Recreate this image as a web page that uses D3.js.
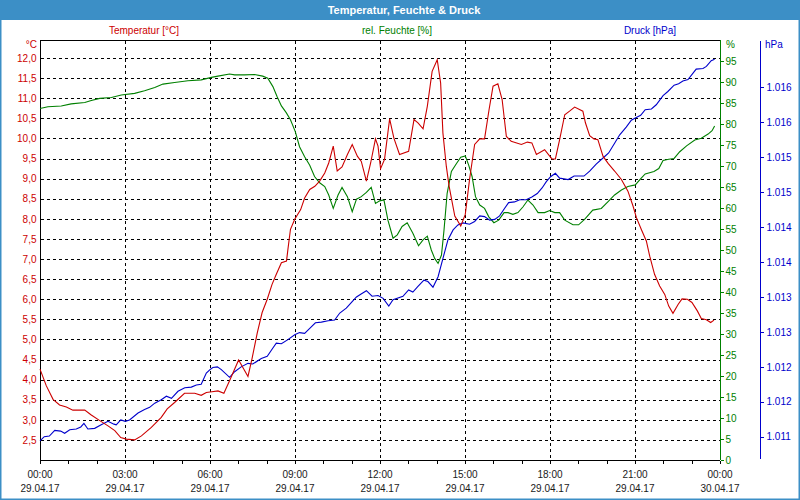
<!DOCTYPE html>
<html><head><meta charset="utf-8">
<script src="https://cdn.jsdelivr.net/npm/d3@7/dist/d3.min.js"></script>
<style>
html,body{margin:0;padding:0;background:#fff;}
text{font-family:"Liberation Sans",Arial,sans-serif;font-size:10px;}
</style></head>
<body><svg id="c" width="800" height="500"></svg>
<script>
// ---- data (time in hours since 29.04.17 00:00) ----
const titleText = "Temperatur, Feuchte & Druck";
const legendLabels = ["Temperatur [°C]", "rel. Feuchte [%]", "Druck [hPa]"];
const timeLabels = ["00:00","03:00","06:00","09:00","12:00","15:00","18:00","21:00","00:00"];
const dateLabels = ["29.04.17","29.04.17","29.04.17","29.04.17","29.04.17","29.04.17","29.04.17","29.04.17","30.04.17"];
const tempTicks = [2.5,3,3.5,4,4.5,5,5.5,6,6.5,7,7.5,8,8.5,9,9.5,10,10.5,11,11.5,12];
const humTicks = [0,5,10,15,20,25,30,35,40,45,50,55,60,65,70,75,80,85,90,95];
const presTicks = [1011,1011.5,1012,1012.5,1013,1013.5,1014,1014.5,1015,1015.5,1016];

const temperature = [
[0.00,4.26],[0.22,3.85],[0.46,3.51],[0.69,3.37],[0.93,3.32],[1.16,3.24],[1.58,3.24],[1.81,3.12],[2.11,2.98],[2.40,2.85],[2.64,2.73],[2.85,2.56],[3.05,2.52],[3.34,2.50],[3.58,2.60],[3.93,2.81],[4.28,3.06],[4.49,3.27],[4.75,3.43],[5.10,3.66],[5.46,3.66],[5.69,3.61],[5.87,3.68],[6.07,3.70],[6.28,3.72],[6.49,3.66],[6.69,3.97],[7.01,4.49],[7.34,4.08],[7.48,4.51],[7.67,5.17],[7.84,5.67],[8.02,6.00],[8.19,6.37],[8.34,6.62],[8.52,6.91],[8.70,6.95],[8.75,7.24],[8.84,7.74],[8.99,7.99],[9.20,8.23],[9.34,8.52],[9.52,8.73],[9.70,8.81],[9.87,8.94],[10.05,9.14],[10.19,9.39],[10.35,9.81],[10.49,9.19],[10.66,9.29],[10.85,9.60],[11.02,9.85],[11.20,9.56],[11.34,9.43],[11.52,8.94],[11.67,9.39],[11.84,9.99],[11.93,9.81],[12.02,9.25],[12.16,9.48],[12.34,10.49],[12.49,10.01],[12.69,9.60],[13.01,9.68],[13.20,10.47],[13.34,10.39],[13.52,10.24],[13.67,10.80],[13.84,11.67],[14.02,11.96],[14.14,11.38],[14.22,10.14],[14.34,9.31],[14.44,8.81],[14.64,8.07],[14.85,7.82],[15.01,8.11],[15.16,8.98],[15.34,9.85],[15.52,9.99],[15.69,9.99],[15.85,10.72],[15.99,11.30],[16.16,11.36],[16.31,10.97],[16.46,10.05],[16.63,9.93],[16.99,9.85],[17.20,9.91],[17.36,9.89],[17.52,9.60],[17.81,9.72],[17.99,9.56],[18.07,9.49],[18.19,9.49],[18.34,9.97],[18.52,10.59],[18.69,10.68],[18.87,10.78],[19.16,10.68],[19.25,10.39],[19.40,10.07],[19.55,9.99],[19.69,9.97],[19.87,9.56],[20.05,9.38],[20.28,9.19],[20.52,8.98],[20.75,8.69],[20.93,8.32],[21.05,8.03],[21.22,7.74],[21.40,7.45],[21.52,7.07],[21.69,6.62],[21.87,6.33],[22.05,6.12],[22.19,5.83],[22.34,5.65],[22.52,5.87],[22.66,6.01],[22.85,6.00],[23.01,5.92],[23.20,5.71],[23.34,5.52],[23.52,5.49],[23.67,5.42],[23.79,5.48]
];

const humidity = [
[0.00,83.7],[0.28,84.1],[0.75,84.3],[1.10,84.8],[1.58,85.1],[1.81,85.6],[2.11,86.1],[2.52,86.3],[2.87,86.9],[3.34,87.3],[3.69,87.9],[4.05,88.7],[4.34,89.5],[4.75,89.9],[5.22,90.3],[5.69,90.5],[6.05,91.1],[6.28,91.4],[6.69,91.9],[6.87,91.7],[7.22,91.7],[7.57,91.8],[7.86,91.4],[8.04,90.9],[8.22,88.9],[8.37,86.5],[8.52,84.3],[8.69,82.7],[8.84,81.0],[9.01,78.2],[9.16,74.6],[9.34,72.2],[9.52,70.2],[9.69,67.5],[9.87,66.0],[10.05,65.1],[10.19,63.1],[10.35,59.9],[10.52,63.1],[10.66,64.9],[10.85,62.7],[11.02,59.1],[11.17,62.1],[11.34,62.7],[11.52,63.7],[11.69,64.9],[11.84,61.1],[11.99,61.7],[12.14,61.9],[12.28,57.1],[12.46,52.8],[12.61,53.6],[12.78,55.6],[12.96,56.5],[13.16,54.0],[13.36,51.0],[13.52,52.4],[13.67,53.3],[13.81,50.0],[13.93,48.0],[14.05,46.8],[14.17,48.8],[14.26,54.8],[14.37,63.5],[14.52,68.7],[14.70,70.6],[14.85,72.1],[15.01,72.4],[15.13,70.2],[15.25,67.5],[15.37,62.7],[15.52,60.7],[15.69,59.9],[15.84,57.9],[16.02,56.5],[16.19,57.1],[16.38,58.9],[16.52,58.9],[16.69,58.5],[16.87,58.9],[17.05,60.3],[17.22,61.9],[17.40,60.7],[17.58,58.9],[17.81,58.9],[17.99,59.4],[18.17,58.9],[18.34,58.9],[18.52,57.1],[18.81,56.0],[19.01,56.0],[19.22,57.3],[19.51,59.5],[19.81,59.9],[20.05,61.5],[20.28,63.1],[20.52,64.3],[20.75,65.1],[21.01,65.5],[21.22,67.1],[21.36,68.1],[21.67,68.7],[21.84,69.4],[21.99,71.3],[22.19,71.6],[22.38,71.8],[22.58,73.4],[22.82,74.8],[23.11,76.2],[23.34,76.6],[23.58,77.6],[23.72,78.4],[23.81,79.5]
];

const pressure = [
[0.00,1010.94],[0.15,1011.00],[0.33,1011.01],[0.52,1011.09],[0.73,1011.08],[0.87,1011.05],[1.05,1011.10],[1.28,1011.11],[1.44,1011.14],[1.55,1011.19],[1.69,1011.11],[1.93,1011.12],[2.16,1011.17],[2.40,1011.22],[2.61,1011.18],[2.69,1011.17],[2.85,1011.24],[3.01,1011.22],[3.16,1011.24],[3.46,1011.34],[3.69,1011.39],[3.87,1011.42],[4.05,1011.48],[4.28,1011.53],[4.46,1011.58],[4.64,1011.55],[4.87,1011.65],[5.11,1011.70],[5.34,1011.71],[5.52,1011.74],[5.69,1011.75],[5.87,1011.91],[6.00,1011.96],[6.10,1011.99],[6.26,1012.00],[6.40,1011.96],[6.69,1011.85],[6.87,1011.93],[7.10,1012.00],[7.34,1012.05],[7.51,1012.04],[7.81,1012.12],[8.02,1012.15],[8.22,1012.27],[8.34,1012.34],[8.52,1012.33],[8.75,1012.39],[8.99,1012.46],[9.16,1012.49],[9.34,1012.48],[9.52,1012.55],[9.72,1012.63],[9.93,1012.64],[10.17,1012.66],[10.40,1012.67],[10.58,1012.77],[10.81,1012.84],[11.01,1012.93],[11.17,1013.00],[11.32,1013.04],[11.52,1013.09],[11.72,1013.01],[11.93,1013.02],[12.11,1012.98],[12.31,1012.87],[12.46,1012.96],[12.81,1013.01],[13.01,1013.10],[13.16,1013.07],[13.34,1013.15],[13.55,1013.24],[13.69,1013.22],[13.87,1013.14],[14.05,1013.29],[14.22,1013.55],[14.40,1013.82],[14.58,1013.96],[14.75,1014.03],[14.93,1014.06],[15.16,1014.04],[15.34,1014.08],[15.52,1014.16],[15.69,1014.15],[15.87,1014.10],[16.05,1014.11],[16.22,1014.16],[16.40,1014.27],[16.54,1014.35],[16.75,1014.36],[16.93,1014.39],[17.16,1014.39],[17.36,1014.43],[17.55,1014.48],[17.72,1014.56],[17.87,1014.65],[18.02,1014.72],[18.19,1014.77],[18.34,1014.70],[18.64,1014.68],[18.85,1014.73],[19.20,1014.73],[19.40,1014.80],[19.63,1014.90],[19.93,1015.01],[20.07,1015.06],[20.28,1015.20],[20.46,1015.32],[20.69,1015.43],[20.87,1015.53],[21.01,1015.56],[21.20,1015.60],[21.36,1015.68],[21.58,1015.69],[21.75,1015.75],[21.99,1015.88],[22.16,1015.94],[22.38,1016.03],[22.54,1016.05],[22.69,1016.09],[22.87,1016.11],[23.16,1016.26],[23.40,1016.27],[23.52,1016.30],[23.69,1016.38],[23.81,1016.40]
];

// ---- styling ----
const C_TEMP = "#cc0000", C_HUM = "#008000", C_PRES = "#0000cc", C_BAR = "#3c8fc6";
const svg = d3.select("#c");
const L = 40, R = 720, T = 40, B = 460;

const x = d3.scaleLinear([0, 24], [L, R]);
const yT = d3.scaleLinear([2.0, 12.45], [B, T]);
const yH = d3.scaleLinear([0, 100], [B, T]);
const yP = d3.scaleLinear([1010.667, 1016.677], [B, T]);

const de = d3.formatLocale({decimal: ",", thousands: ".", grouping: [3], currency: ["", "€"]});
const fT = de.format(",.1f"), fP = de.format(",.0f");

svg.append("rect").attr("width", 800).attr("height", 500).attr("fill", "#fff");
// title bar
svg.append("rect").attr("x", 0).attr("y", 0).attr("width", 800).attr("height", 20).attr("fill", C_BAR);
svg.append("text").attr("x", 404).attr("y", 14).attr("text-anchor", "middle")
  .attr("fill", "#fff").attr("font-weight", "bold").style("font-size", "11px").text(titleText);
// outer border
svg.append("rect").attr("x", 0.75).attr("y", 0.75).attr("width", 798.5).attr("height", 498.5)
  .attr("fill", "none").attr("stroke", C_BAR).attr("stroke-width", 1.5);

// legend labels
const legX = [144, 397, 650], legC = [C_TEMP, C_HUM, C_PRES];
svg.selectAll("text.leg").data(legendLabels).join("text").attr("class", "leg")
  .attr("x", (d, i) => legX[i]).attr("y", 34).attr("text-anchor", "middle")
  .attr("fill", (d, i) => legC[i]).text(d => d);

// grid
const g = svg.append("g").attr("shape-rendering", "crispEdges");
g.selectAll("line.hg").data(tempTicks).join("line").attr("class", "hg")
  .attr("x1", L + 1).attr("x2", R).attr("y1", d => Math.round(yT(d)) + 0.5).attr("y2", d => Math.round(yT(d)) + 0.5)
  .attr("stroke", "#000").attr("stroke-dasharray", "3,3");
g.selectAll("line.vg").data([3, 6, 9, 12, 15, 18, 21]).join("line").attr("class", "vg")
  .attr("y1", T + 1).attr("y2", B).attr("x1", d => Math.round(x(d)) + 0.5).attr("x2", d => Math.round(x(d)) + 0.5)
  .attr("stroke", "#000").attr("stroke-dasharray", "3,3");
// top frame
g.append("line").attr("x1", L).attr("x2", R).attr("y1", T + 0.5).attr("y2", T + 0.5).attr("stroke", "#000");

// left axis (temperature)
const axT = svg.append("g").attr("transform", `translate(${L + 0.5},0)`)
  .call(d3.axisLeft(yT).tickValues(tempTicks).tickFormat(fT).tickSize(0).tickSizeOuter(0).tickPadding(4));
axT.select(".domain").attr("stroke", "#000").attr("d", `M0,${T}V${B}`).attr("shape-rendering", "crispEdges");
axT.selectAll("text").attr("fill", C_TEMP).style("font-size", "10px").style("font-family", "Liberation Sans, Arial, sans-serif");
svg.append("text").attr("x", 37).attr("y", 48).attr("text-anchor", "end").attr("fill", C_TEMP).text("°C");

// humidity axis
const axH = svg.append("g").attr("transform", `translate(${R + 0.5},0)`)
  .call(d3.axisRight(yH).tickValues(humTicks).tickSize(3).tickSizeOuter(0).tickPadding(2));
axH.select(".domain").attr("stroke", C_HUM).attr("d", `M0,${T}V${B}`).attr("shape-rendering", "crispEdges");
axH.selectAll(".tick line").attr("stroke", C_HUM).attr("shape-rendering", "crispEdges");
axH.selectAll("text").attr("fill", C_HUM).style("font-size", "10px").style("font-family", "Liberation Sans, Arial, sans-serif");
svg.append("text").attr("x", 726).attr("y", 48).attr("fill", C_HUM).text("%");

// pressure axis
const axP = svg.append("g").attr("transform", `translate(${760.5},0)`)
  .call(d3.axisRight(yP).tickValues(presTicks).tickFormat(fP).tickSize(3).tickSizeOuter(0).tickPadding(3));
axP.select(".domain").attr("stroke", C_PRES).attr("d", `M0,${T + 1}V${B - 1}`).attr("shape-rendering", "crispEdges");
axP.selectAll(".tick line").attr("stroke", C_PRES).attr("shape-rendering", "crispEdges");
axP.selectAll("text").attr("fill", C_PRES).style("font-size", "10px").style("font-family", "Liberation Sans, Arial, sans-serif");
svg.append("text").attr("x", 765).attr("y", 48).attr("fill", C_PRES).text("hPa");

// x axis
const axX = svg.append("g").attr("transform", `translate(0,${B + 0.5})`)
  .call(d3.axisBottom(x).tickValues(d3.range(0, 25, 1)).tickFormat("").tickSize(3).tickSizeOuter(0));
axX.select(".domain").attr("stroke", "#000").attr("d", `M${L},0H${R}`).attr("shape-rendering", "crispEdges");
axX.selectAll(".tick line").attr("shape-rendering", "crispEdges");
const majors = d3.range(0, 25, 3);
svg.selectAll("text.tl").data(majors).join("text").attr("class", "tl")
  .attr("x", d => x(d)).attr("y", 478).attr("text-anchor", "middle").attr("fill", "#1a1a1a")
  .text((d, i) => timeLabels[i]);
svg.selectAll("text.dl").data(majors).join("text").attr("class", "dl")
  .attr("x", d => x(d)).attr("y", 492).attr("text-anchor", "middle").attr("fill", "#1a1a1a")
  .text((d, i) => dateLabels[i]);

// series
const lines = svg.append("g");
lines.append("path").datum(humidity).attr("fill", "none").attr("stroke", C_HUM).attr("stroke-width", 1.1)
  .attr("d", d3.line().x(d => x(d[0])).y(d => yH(d[1])));
lines.append("path").datum(pressure).attr("fill", "none").attr("stroke", C_PRES).attr("stroke-width", 1.1)
  .attr("d", d3.line().x(d => x(d[0])).y(d => yP(d[1])));
lines.append("path").datum(temperature).attr("fill", "none").attr("stroke", C_TEMP).attr("stroke-width", 1.1)
  .attr("d", d3.line().x(d => x(d[0])).y(d => yT(d[1])));
</script></body></html>
